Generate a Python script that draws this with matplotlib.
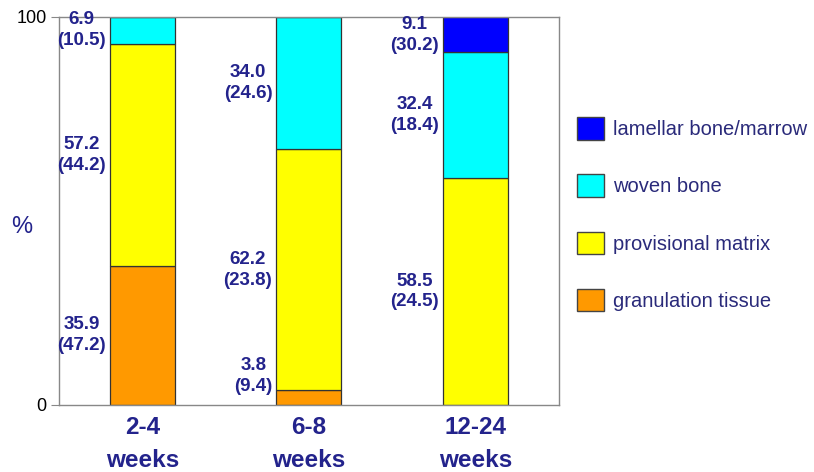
import matplotlib.pyplot as plt
from matplotlib.patches import Patch

plt.rcParams['font.family'] = ['Liberation Sans', 'DejaVu Sans']

NAVY = '#23238c'

groups = ["2-4\nweeks", "6-8\nweeks", "12-24\nweeks"]
tissues = ["granulation tissue", "provisional matrix", "woven bone", "lamellar bone/marrow"]
colors = ["#ff9900", "#ffff00", "#00ffff", "#0000ff"]

# mean % per group, and (SD) shown in brackets
granulation = [35.9, 3.8, 0.0]
provisional = [57.2, 62.2, 58.5]
woven = [6.9, 34.0, 32.4]
lamellar = [0.0, 0.0, 9.1]
granulation_sd = [47.2, 9.4, None]
provisional_sd = [44.2, 23.8, 24.5]
woven_sd = [10.5, 24.6, 18.4]
lamellar_sd = [None, None, 30.2]

values = [granulation, provisional, woven, lamellar]
sds = [granulation_sd, provisional_sd, woven_sd, lamellar_sd]

fig = plt.figure(figsize=(8.14, 4.72), dpi=100)
ax = fig.add_axes([0.0725, 0.142, 0.6142, 0.822])

x = range(len(groups))
width = 0.39
bottom = [0.0] * len(groups)
for vals, sd, col in zip(values, sds, colors):
    ax.bar(x, vals, width, bottom=bottom, color=col, edgecolor='#333333', linewidth=0.9)
    for i in x:
        if vals[i] > 0:
            yc = max(bottom[i] + vals[i] / 2, 7.5)
            ax.text(i - width / 2 - 0.025, yc, "%.1f\n(%.1f)" % (vals[i], sd[i]),
                    ha='right', va='center', multialignment='center',
                    fontsize=13.5, fontweight='bold', color=NAVY, linespacing=1.3)
    bottom = [b + v for b, v in zip(bottom, vals)]

ax.set_xlim(-0.5, 2.5)
ax.set_ylim(0, 100)
ax.set_yticks([0, 100])
ax.tick_params(axis='y', labelsize=13, length=6, color='#888888', pad=3)
ax.tick_params(axis='x', length=0, pad=8)
ax.set_xticks(list(x))
ax.set_xticklabels(groups, fontsize=17.5, fontweight='bold', color=NAVY, linespacing=1.55)
for s in ax.spines.values():
    s.set_color('#888888')
    s.set_linewidth(1.0)
ax.set_ylabel('%', fontsize=17, color=NAVY, rotation=0, va='center', ha='center')
ax.yaxis.set_label_coords(-0.074, 0.46)

handles = [Patch(facecolor=c, edgecolor='#444444', label=t) for c, t in zip(colors, tissues)]
leg = fig.legend(handles[::-1], tissues[::-1], loc='center left', bbox_to_anchor=(0.686, 0.546),
                 frameon=False, fontsize=14.5, handlelength=1.35, handleheight=1.35,
                 labelspacing=1.72, handletextpad=0.45)
for t in leg.get_texts():
    t.set_color('#2a2a7a')

fig.savefig('out.png', dpi=100)
